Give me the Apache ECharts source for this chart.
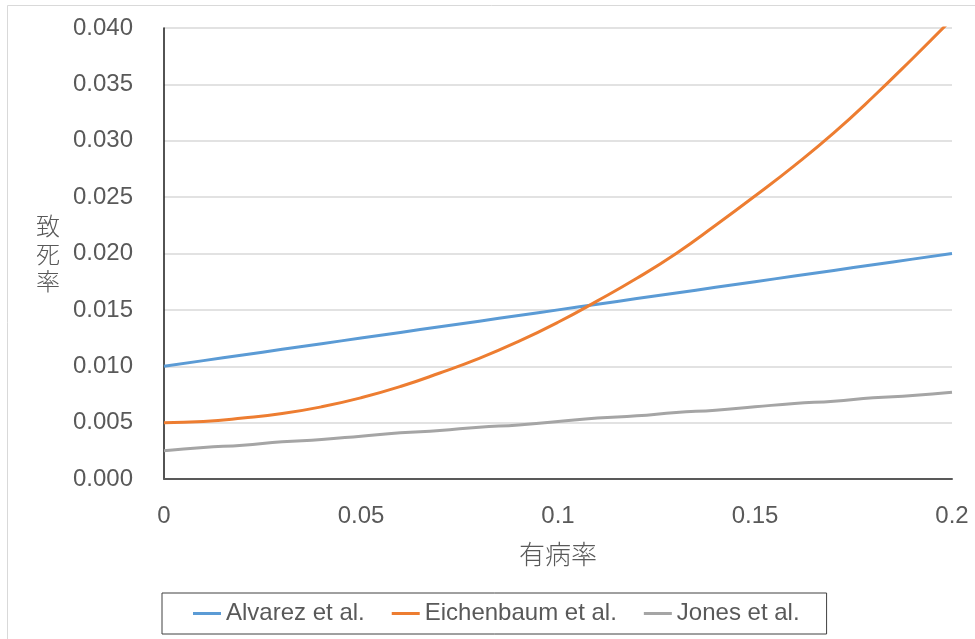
<!DOCTYPE html>
<html>
<head>
<meta charset="utf-8">
<script src="https://cdn.jsdelivr.net/npm/echarts@6/dist/echarts.min.js"></script>
<style>
html,body{margin:0;padding:0;background:#fff;}
#chart{width:975px;height:639px;}
</style>
</head>
<body>
<div id="chart"></div>
<script>
const prevalence = [0, 0.01, 0.02, 0.03, 0.04, 0.05, 0.06, 0.07, 0.08, 0.09, 0.10,
  0.11, 0.12, 0.13, 0.14, 0.15, 0.16, 0.17, 0.18, 0.19, 0.20];
const alvarez = [0.0100, 0.0105, 0.0110, 0.0115, 0.0120, 0.0125, 0.0130, 0.0135, 0.0140, 0.0145, 0.0150,
  0.0155, 0.0160, 0.0165, 0.0170, 0.0175, 0.0180, 0.0185, 0.0190, 0.0195, 0.0200];
const eichenbaum = [0.0050, 0.0051, 0.0054, 0.0058, 0.0064, 0.0072, 0.0082, 0.0094, 0.0107, 0.0122, 0.0139,
  0.0158, 0.0178, 0.0200, 0.0225, 0.0251, 0.0278, 0.0307, 0.0339, 0.0373, 0.0408];
const jones = [0.0025, 0.0028, 0.0030, 0.0033, 0.0035, 0.0038, 0.0041, 0.0043, 0.0046, 0.0048, 0.0051,
  0.0054, 0.0056, 0.0059, 0.0061, 0.0064, 0.0067, 0.0069, 0.0072, 0.0074, 0.0077];
const seriesNames = ['Alvarez et al.', 'Eichenbaum et al.', 'Jones et al.'];
const seriesValues = [alvarez, eichenbaum, jones];
const colors = ['#5B9BD5', '#ED7D31', '#A5A5A5'];
const xTitle = '有病率';
const yTitle = '致\n死\n率';

const FONT = 'Liberation Sans';
const chart = echarts.init(document.getElementById('chart'), null, {renderer: 'canvas'});
chart.setOption({
  animation: false,
  backgroundColor: '#ffffff',
  textStyle: {fontFamily: FONT},
  graphic: [{
    type: 'rect',
    shape: {x: 7.5, y: 5.5, width: 1000, height: 700},
    style: {fill: 'none', stroke: '#d9d9d9', lineWidth: 1},
    silent: true, z: -1
  }],
  grid: {left: 164, right: 23, top: 28, bottom: 160, containLabel: false},
  xAxis: {
    type: 'value', min: 0, max: 0.2, interval: 0.05,
    name: xTitle, nameLocation: 'middle', nameGap: 62,
    nameTextStyle: {fontSize: 26, color: '#595959', fontFamily: 'Noto Sans CJK JP', fontWeight: 300},
    axisLine: {show: true, onZero: false, lineStyle: {color: '#595959', width: 2}},
    axisTick: {show: false},
    splitLine: {show: false},
    axisLabel: {fontSize: 24, color: '#595959', margin: 25, fontFamily: FONT,
      formatter: v => String(+v.toFixed(2))}
  },
  yAxis: {
    type: 'value', min: 0, max: 0.04, interval: 0.005,
    name: yTitle, nameLocation: 'middle', nameGap: 116, nameRotate: 0,
    nameTextStyle: {fontSize: 24, color: '#595959', lineHeight: 27.5, fontFamily: 'Noto Sans CJK JP', fontWeight: 300, align: 'center', verticalAlign: 'middle'},
    axisLine: {show: true, lineStyle: {color: '#1a1a1a', width: 1.5}},
    axisTick: {show: false},
    splitLine: {show: true, lineStyle: {color: '#d9d9d9', width: 1.5}},
    axisLabel: {fontSize: 24, color: '#595959', margin: 31, fontFamily: FONT,
      formatter: v => v.toFixed(3)}
  },
  legend: {
    left: 162, top: 593,
    padding: [8.5, 27, 8.5, 31],
    itemGap: 27, itemWidth: 28, itemHeight: 3,
    icon: 'rect',
    borderColor: '#404040', borderWidth: 1,
    textStyle: {fontSize: 24, color: '#595959', fontFamily: FONT},
    data: seriesNames
  },
  series: seriesNames.map((name, i) => ({
    name: name,
    type: 'line',
    data: prevalence.map((x, j) => [x, seriesValues[i][j]]),
    smooth: true,
    symbol: 'none',
    clip: true,
    lineStyle: {color: colors[i], width: 3},
    itemStyle: {color: colors[i]}
  }))
});
</script>
</body>
</html>
